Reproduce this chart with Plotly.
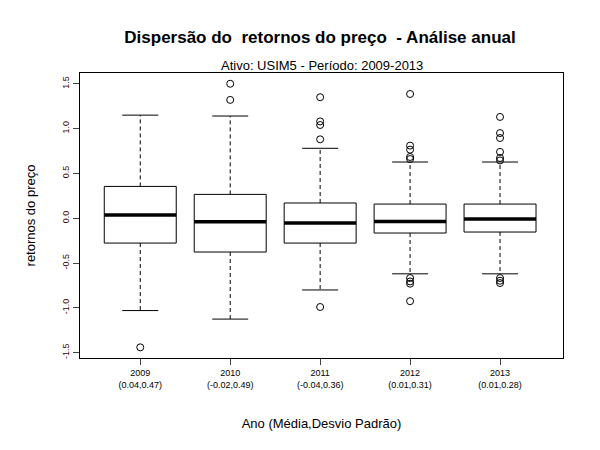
import plotly.graph_objects as go

anos = ["2009", "2010", "2011", "2012", "2013"]
estat = ["(0.04,0.47)", "(-0.02,0.49)", "(-0.04,0.36)", "(0.01,0.31)", "(0.01,0.28)"]
q1 = [-0.277, -0.377, -0.277, -0.165, -0.154]
mediana = [0.036, -0.04, -0.054, -0.036, -0.009]
q3 = [0.355, 0.266, 0.17, 0.158, 0.158]
lim_inf = [-1.03, -1.125, -0.80, -0.62, -0.62]
lim_sup = [1.15, 1.14, 0.78, 0.627, 0.627]
outliers = [
    [-1.44],
    [1.50, 1.32],
    [1.35, 1.08, 1.04, 0.88, -0.99],
    [1.386, 0.81, 0.765, 0.683, 0.66, -0.667, -0.705, -0.73, -0.925],
    [1.13, 0.95, 0.895, 0.74, 0.672, 0.645, -0.667, -0.697, -0.723],
]

fig = go.Figure()
hw, cw = 0.4, 0.2
for i in range(len(anos)):
    x = i + 1
    # whiskers (dashed)
    fig.add_trace(go.Scatter(x=[x, x, None, x, x], y=[q3[i], lim_sup[i], None, q1[i], lim_inf[i]],
                             mode="lines", line=dict(color="black", width=1, dash="4px,3px")))
    # caps
    fig.add_trace(go.Scatter(x=[x - cw, x + cw, None, x - cw, x + cw],
                             y=[lim_sup[i], lim_sup[i], None, lim_inf[i], lim_inf[i]],
                             mode="lines", line=dict(color="black", width=1)))
    # box
    fig.add_trace(go.Scatter(x=[x - hw, x + hw, x + hw, x - hw, x - hw],
                             y=[q1[i], q1[i], q3[i], q3[i], q1[i]],
                             mode="lines", fill="toself", fillcolor="white",
                             line=dict(color="black", width=1)))
    # median
    fig.add_trace(go.Scatter(x=[x - hw, x + hw], y=[mediana[i], mediana[i]],
                             mode="lines", line=dict(color="black", width=3.5)))
    fig.add_trace(go.Scatter(x=[x] * len(outliers[i]), y=outliers[i], mode="markers",
                             marker=dict(symbol="circle-open", size=7, color="black", line=dict(width=1))))

fig.update_layout(
    width=600, height=450, showlegend=False,
    paper_bgcolor="white", plot_bgcolor="white",
    margin=dict(l=72, r=45, t=65, b=100),
    font=dict(family="Liberation Sans, Arial", color="black"),
    title=dict(text="<b>Dispersão do  retornos do preço  - Análise anual</b>", x=0.52, xanchor="center",
               y=0.935, yanchor="middle", font=dict(size=17)),
    annotations=[dict(text="Ativo: USIM5 - Período: 2009-2013", xref="paper", yref="paper",
                      x=0.5, y=1.0, yanchor="bottom", showarrow=False, font=dict(size=13), yshift=-2)],
)
fig.update_xaxes(range=[0.33, 5.7], tickmode="array", tickvals=[1, 2, 3, 4, 5],
                 ticktext=[f"{a}<br>{s}" for a, s in zip(anos, estat)],
                 tickfont=dict(size=9), ticks="outside", ticklen=6, showgrid=False, zeroline=False,
                 showline=True, linecolor="black", mirror=True,
                 title=dict(text="Ano (Média,Desvio Padrão)", font=dict(size=13), standoff=30))
fig.update_yaxes(range=[-1.559, 1.62], tickvals=[-1.5, -1.0, -0.5, 0.0, 0.5, 1.0, 1.5],
                 ticktext=["-1.5", "-1.0", "-0.5", "0.0", "0.5", "1.0", "1.5"], tickangle=-90,
                 tickfont=dict(size=9, color="#400000"), ticks="outside", ticklen=6, showgrid=False,
                 zeroline=False, showline=True, linecolor="black", mirror=True,
                 title=dict(text="retornos do preço", font=dict(size=13), standoff=22))

fig.write_html("out.html")
